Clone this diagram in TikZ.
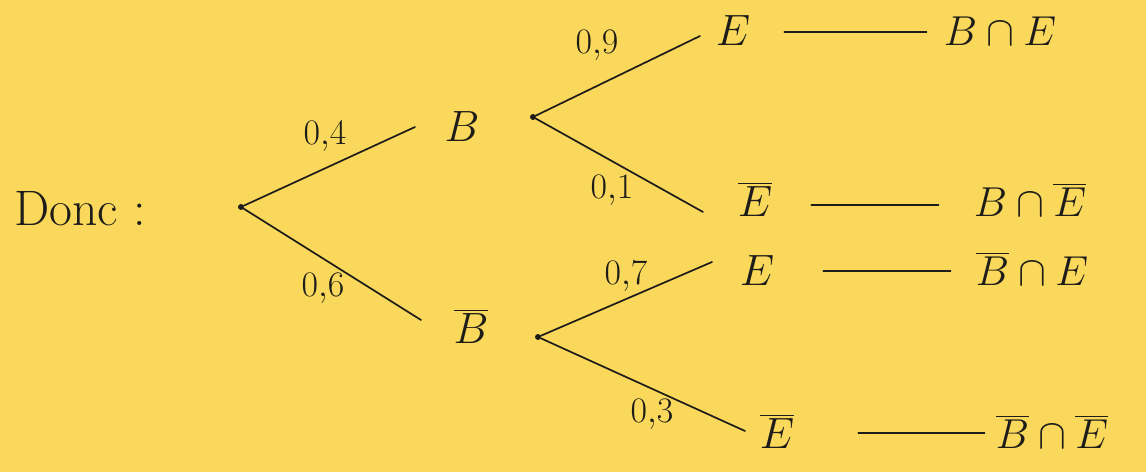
\documentclass[tikz,border=0pt]{standalone}
\usepackage{fix-cm}
\usepackage{amsmath}
\definecolor{paper}{HTML}{F9D85C}
\definecolor{ink}{HTML}{1E1C18}
\begin{document}
\begin{tikzpicture}[x=1bp,y=-1bp,
  ev/.style={inner sep=4pt, anchor=base, text=ink, font=\fontsize{44}{50}\selectfont},
  res/.style={inner sep=3pt, anchor=base, text=ink, font=\fontsize{42}{48}\selectfont},
  prob/.style={inner sep=1pt, text=ink, font=\fontsize{36}{42}\selectfont},
  branch/.style={draw=ink, line width=1.7bp, line cap=round},
  dot/.style={circle, fill=ink, inner sep=0pt, minimum size=6bp}]
\fill[paper] (0,0) rectangle (1146,472);
\useasboundingbox (0,0) rectangle (1146,472);
% start
\node[inner sep=0pt, anchor=base west, text=ink, font=\fontsize{50}{56}\selectfont] (donc) at (14,226) {Donc :};
\node[dot] (r) at (241,207) {};
% first level
\node[ev] (B) at (462,142) {$B$};
\node[ev] (Bb) at (471,344) {$\overline{B}$};
\node[dot] (b1) at (533,117) {};
\node[dot] (b2) at (538,337) {};
% second level
\node[ev] (E1) at (733,46) {$E$};
\node[ev] (E2) at (755,217) {$\overline{E}$};
\node[ev] (E3) at (757,286) {$E$};
\node[ev] (E4) at (777,449) {$\overline{E}$};
% results
\node[res] (R1) at (1000,46) {$B\cap E$};
\node[res] (R2) at (1030,217) {$B\cap \overline{E}$};
\node[res] (R3) at (1032,286) {$\overline{B}\cap E$};
\node[res] (R4) at (1052,449) {$\overline{B}\cap \overline{E}$};
% branches
\draw[branch] (r) -- (415,127) coordinate (tB);
\draw[branch] (r) -- (421,320) coordinate (tBb);
\draw[branch] (b1) -- (700,36) coordinate (t1);
\draw[branch] (b1) -- (703,212) coordinate (t2);
\draw[branch] (b2) -- (712,262) coordinate (t3);
\draw[branch] (b2) -- (745,431) coordinate (t4);
% probabilities
\node[prob] (p1) at (325,136) {$0{,}4$};
\node[prob] (p2) at (323,288) {$0{,}6$};
\node[prob] (p3) at (597,45) {$0{,}9$};
\node[prob] (p4) at (612,190) {$0{,}1$};
\node[prob] (p5) at (626,276) {$0{,}7$};
\node[prob] (p6) at (652,414) {$0{,}3$};
% connectors to results
\draw[branch] ([xshift=30bp,yshift=14bp]E1.base east) -- ([xshift=-14bp,yshift=14bp]R1.base west);
\draw[branch] ([xshift=35bp,yshift=12bp]E2.base east) -- ([xshift=-32bp,yshift=12bp]R2.base west);
\draw[branch] ([xshift=45bp,yshift=15bp]E3.base east) -- ([xshift=-22bp,yshift=15bp]R3.base west);
\draw[branch] ([xshift=60bp,yshift=16bp]E4.base east) -- ([xshift=-8bp,yshift=16bp]R4.base west);
\end{tikzpicture}
\end{document}
